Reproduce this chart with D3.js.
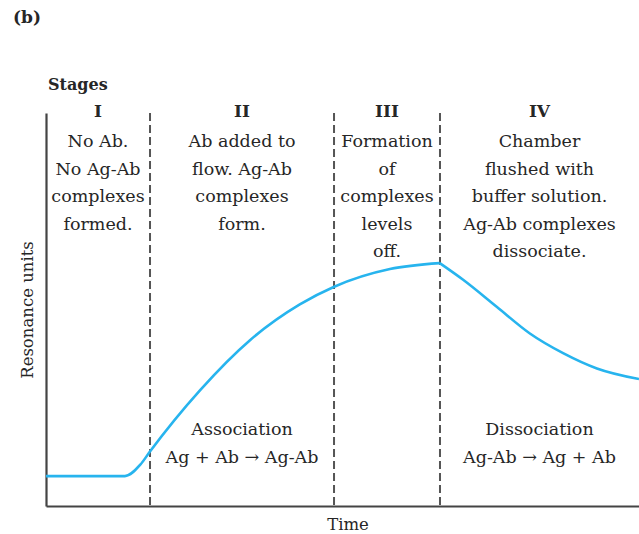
<!DOCTYPE html>
<html>
<head>
<meta charset="utf-8">
<script src="https://cdn.jsdelivr.net/npm/d3@7"></script>
<style>
  body { margin: 0; background: #fff; }
  text { font-family: "DejaVu Serif", "Liberation Serif", serif; fill: #262626; }
</style>
</head>
<body>
<svg width="639" height="534"></svg>
<script>
// time (arbitrary units) and response (resonance units, % of axis height)
const time = [0, 1.33, 1.59, 1.75, 2.6, 3.44, 4.28, 4.86, 5.8, 6.64];
const response = [7.6, 7.6, 10.5, 13.8, 29.5, 42.2, 51.3, 55.8, 60.3, 61.8];

const timeOff = [6.64, 7.04, 7.6, 8.16, 8.72, 9.29, 10];
const responseOff = [61.8, 57.5, 50.7, 43.9, 38.9, 35.0, 32.3];   // dissociation part

const stageBounds = [0, 1.754, 4.857, 6.644, 10];
const stageNames = ["I", "II", "III", "IV"];
const stageText = [
    ["No Ab.", "No Ag-Ab", "complexes", "formed."],
    ["Ab added to", "flow. Ag-Ab", "complexes", "form."],
    ["Formation", "of", "complexes", "levels", "off."],
    ["Chamber", "flushed with", "buffer solution.", "Ag-Ab complexes", "dissociate."]
];
const reactionStage = [1, 3];
const reactionText = [
    ["Association", "Ag + Ab \u2192 Ag-Ab"],
    ["Dissociation", "Ag-Ab \u2192 Ag + Ab"]
];

const svg = d3.select("svg"),
    width = +svg.attr("width"),
    height = +svg.attr("height");

const margin = {top: 113, right: 0, bottom: 28, left: 46};

const x = d3.scaleLinear()
    .domain([0, 10])
    .range([margin.left, width - margin.right]);

const y = d3.scaleLinear()
    .domain([0, 100])
    .range([height - margin.bottom, margin.top]);

// stage separators
svg.append("g")
    .selectAll("line")
    .data(stageBounds.slice(1, -1))
    .join("line")
    .attr("x1", d => x(d))
    .attr("x2", d => x(d))
    .attr("y1", y(100))
    .attr("y2", y(0))
    .attr("stroke", "#555")
    .attr("stroke-width", 2)
    .attr("stroke-dasharray", "8,4");

// axes (no ticks, just the lines)
function xAxis(g) {
    g.attr("transform", `translate(0,${y(0)})`)
     .call(d3.axisBottom(x).tickValues([]).tickSizeOuter(0))
     .select(".domain").attr("stroke", "#444").attr("stroke-width", 2.2);
}
function yAxis(g) {
    g.attr("transform", `translate(${x(0)},0)`)
     .call(d3.axisLeft(y).tickValues([]).tickSizeOuter(0))
     .select(".domain").attr("stroke", "#444").attr("stroke-width", 2.2);
}
svg.append("g").call(xAxis);
svg.append("g").call(yAxis);

// sensorgram curve
const line = d3.line()
    .x(d => x(d[0]))
    .y(d => y(d[1]))
    .curve(d3.curveMonotoneX);

[d3.zip(time, response), d3.zip(timeOff, responseOff)].forEach(pts => {
    svg.append("path")
        .attr("d", line(pts))
        .attr("fill", "none")
        .attr("stroke", "#27b4ee")
        .attr("stroke-width", 2.6)
        .attr("stroke-linejoin", "round");
});

const mid = i => (x(stageBounds[i]) + x(stageBounds[i + 1])) / 2;

// stage headings and descriptions
const stages = svg.append("g").attr("text-anchor", "middle");
stages.selectAll(".num")
    .data(stageNames)
    .join("text")
    .attr("class", "num")
    .attr("x", (d, i) => mid(i))
    .attr("y", 117)
    .attr("font-size", 17)
    .attr("font-weight", "bold")
    .text(d => d);

stageText.forEach((lines, i) => {
    stages.append("g")
        .selectAll("text")
        .data(lines)
        .join("text")
        .attr("x", mid(i))
        .attr("y", (d, j) => 147 + j * 27.6)
        .attr("font-size", 17.5)
        .text(d => d);
});

reactionText.forEach((lines, i) => {
    stages.append("g")
        .selectAll("text")
        .data(lines)
        .join("text")
        .attr("x", mid(reactionStage[i]))
        .attr("y", (d, j) => 435 + j * 28)
        .attr("font-size", 17.5)
        .text(d => d);
});

svg.append("text")
    .attr("x", 48).attr("y", 90)
    .attr("font-size", 16)
    .attr("font-weight", "bold")
    .text("Stages");

svg.append("text")
    .attr("x", 13).attr("y", 23)
    .attr("font-size", 17)
    .attr("font-weight", "bold")
    .text("(b)");

svg.append("text")
    .attr("x", 348).attr("y", 530)
    .attr("text-anchor", "middle")
    .attr("font-size", 16.5)
    .text("Time");

svg.append("text")
    .attr("transform", "translate(33,310) rotate(-90)")
    .attr("text-anchor", "middle")
    .attr("font-size", 16.5)
    .text("Resonance units");
</script>
</body>
</html>
